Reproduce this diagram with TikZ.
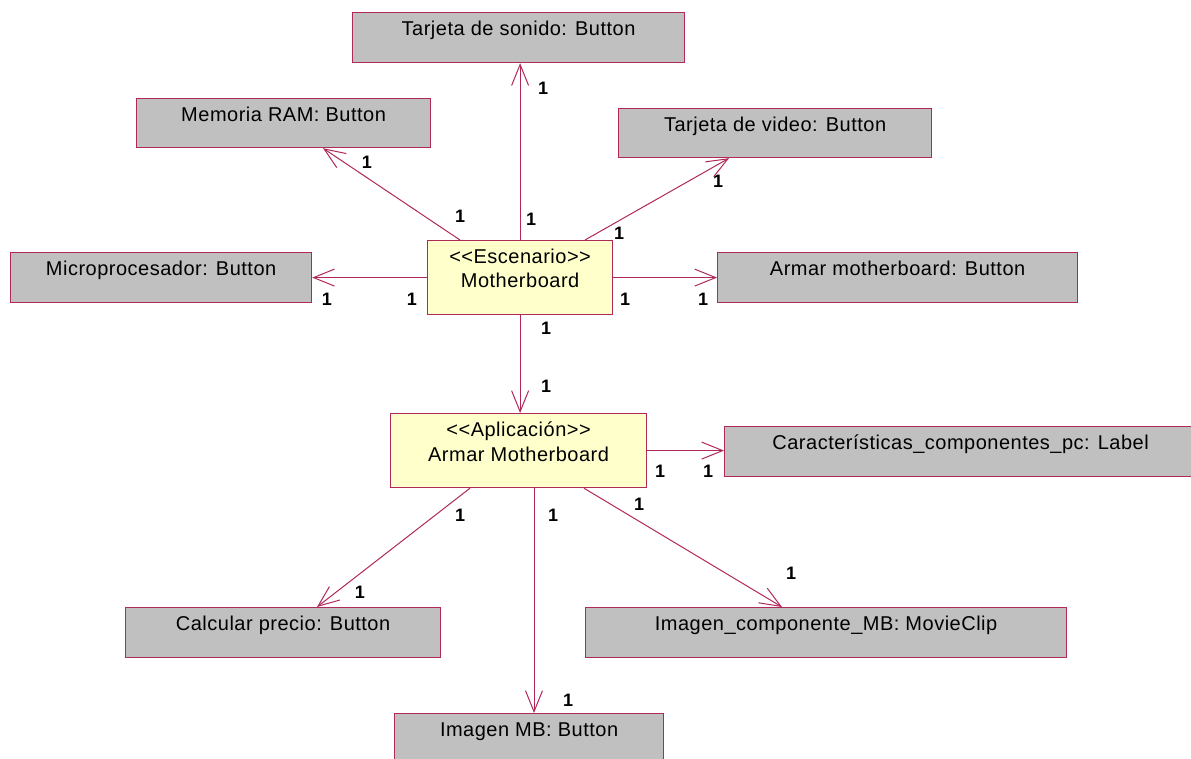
\documentclass[tikz,border=0pt]{standalone}
\usepackage{fontspec}
\setmainfont{Liberation Sans}[LetterSpace=2.5]
\usetikzlibrary{arrows.meta}
\definecolor{edge}{HTML}{B0285A}
\definecolor{frame}{HTML}{B02A58}
\definecolor{objfill}{HTML}{C0C0C0}
\definecolor{ctlfill}{HTML}{FFFFCC}

\begin{document}
\begin{tikzpicture}[x=1pt,y=-1pt,
  obj/.style={draw=frame, fill=objfill, line width=1.2pt, inner sep=0pt, anchor=north west},
  ctl/.style={obj, fill=ctlfill},
  caption/.style={draw=none, fill=none, anchor=base, inner sep=0pt,
    font=\fontsize{20}{24}\selectfont, yshift=-#1},
  caption/.default=23.5pt,
  assoc/.style={draw=edge, line width=1pt, -{Straight Barb[length=21pt,width=17pt]}},
  mult/.style={font=\fontsize{18}{20}\selectfont\bfseries, inner sep=0pt}]

\useasboundingbox[fill=white] (0,0) rectangle (1191,759);

% button and label objects
\node[obj, minimum width=332pt, minimum height=50pt,
  label={[caption]north:Tarjeta de sonido: Button}] (sonido) at (352,12) {};
\node[obj, minimum width=294pt, minimum height=49pt,
  label={[caption]north:Memoria RAM: Button}] (memoria) at (136,98) {};
\node[obj, minimum width=313pt, minimum height=49pt,
  label={[caption]north:Tarjeta de video: Button}] (video) at (618,108) {};
\node[obj, minimum width=301pt, minimum height=50pt,
  label={[caption]north:Microprocesador: Button}] (micro) at (10,252) {};
\node[obj, minimum width=360pt, minimum height=50pt,
  label={[caption]north:Armar motherboard: Button}] (armar) at (717,252) {};
\node[obj, minimum width=472pt, minimum height=50pt,
  label={[caption]north:Características\_componentes\_pc: Label}] (caract) at (724,426) {};
\node[obj, minimum width=315pt, minimum height=50pt,
  label={[caption]north:Calcular precio: Button}] (calc) at (125,607) {};
\node[obj, minimum width=481pt, minimum height=50pt,
  label={[caption]north:Imagen\_componente\_MB: MovieClip}] (imgcomp) at (585,607) {};
\node[obj, minimum width=269pt, minimum height=50pt,
  label={[caption]north:Imagen MB: Button}] (imgmb) at (394,713) {};

% stereotyped classes
\node[ctl, minimum width=185pt, minimum height=74pt,
  label={[caption]north:<{}<Escenario>{}>},
  label={[caption=47.5pt]north:Motherboard}] (mother) at (427,240) {};
\node[ctl, minimum width=256pt, minimum height=74pt,
  label={[caption]north:<{}<Aplicación>{}>},
  label={[caption=48pt]north:Armar Motherboard}] (aplic) at (390,413) {};

% associations from the scenario
\draw[assoc] (mother.north) -- (mother.north |- sonido.south);
\draw[assoc] ([xshift=33pt]mother.north west) -- ([xshift=187pt]memoria.south west);
\draw[assoc] ([xshift=158pt]mother.north west) -- ([xshift=111pt]video.south west);
\draw[assoc] (mother.west) -- (mother.west -| micro.east);
\draw[assoc] (mother.east) -- (mother.east -| armar.west);
\draw[assoc] (mother.south) -- (mother.south |- aplic.north);

% associations from the application
\draw[assoc] (aplic.east) -- (aplic.east -| caract.west);
\draw[assoc] ([xshift=80pt]aplic.south west) -- ([xshift=192pt]calc.north west);
\draw[assoc] ([xshift=144pt]aplic.south west) -- ([xshift=144pt]aplic.south west |- imgmb.north);
\draw[assoc] ([xshift=194pt]aplic.south west) -- ([xshift=197pt]imgcomp.north west);

% multiplicities
\node[mult] (m1) at (543,88) {1};
\node[mult] (m2) at (531,219) {1};
\node[mult] (m3) at (367,162) {1};
\node[mult] (m4) at (460,216) {1};
\node[mult] (m5) at (718,181) {1};
\node[mult] (m6) at (619,233) {1};
\node[mult] (m7) at (327,299) {1};
\node[mult] (m8) at (412,299) {1};
\node[mult] (m9) at (625,299) {1};
\node[mult] (m10) at (703,299) {1};
\node[mult] (m11) at (546,328) {1};
\node[mult] (m12) at (546,386) {1};
\node[mult] (m13) at (660,471) {1};
\node[mult] (m14) at (708,471) {1};
\node[mult] (m15) at (460,515) {1};
\node[mult] (m16) at (360,592) {1};
\node[mult] (m17) at (553,515) {1};
\node[mult] (m18) at (568,700) {1};
\node[mult] (m19) at (639,504) {1};
\node[mult] (m20) at (791,573) {1};
\end{tikzpicture}
\end{document}
